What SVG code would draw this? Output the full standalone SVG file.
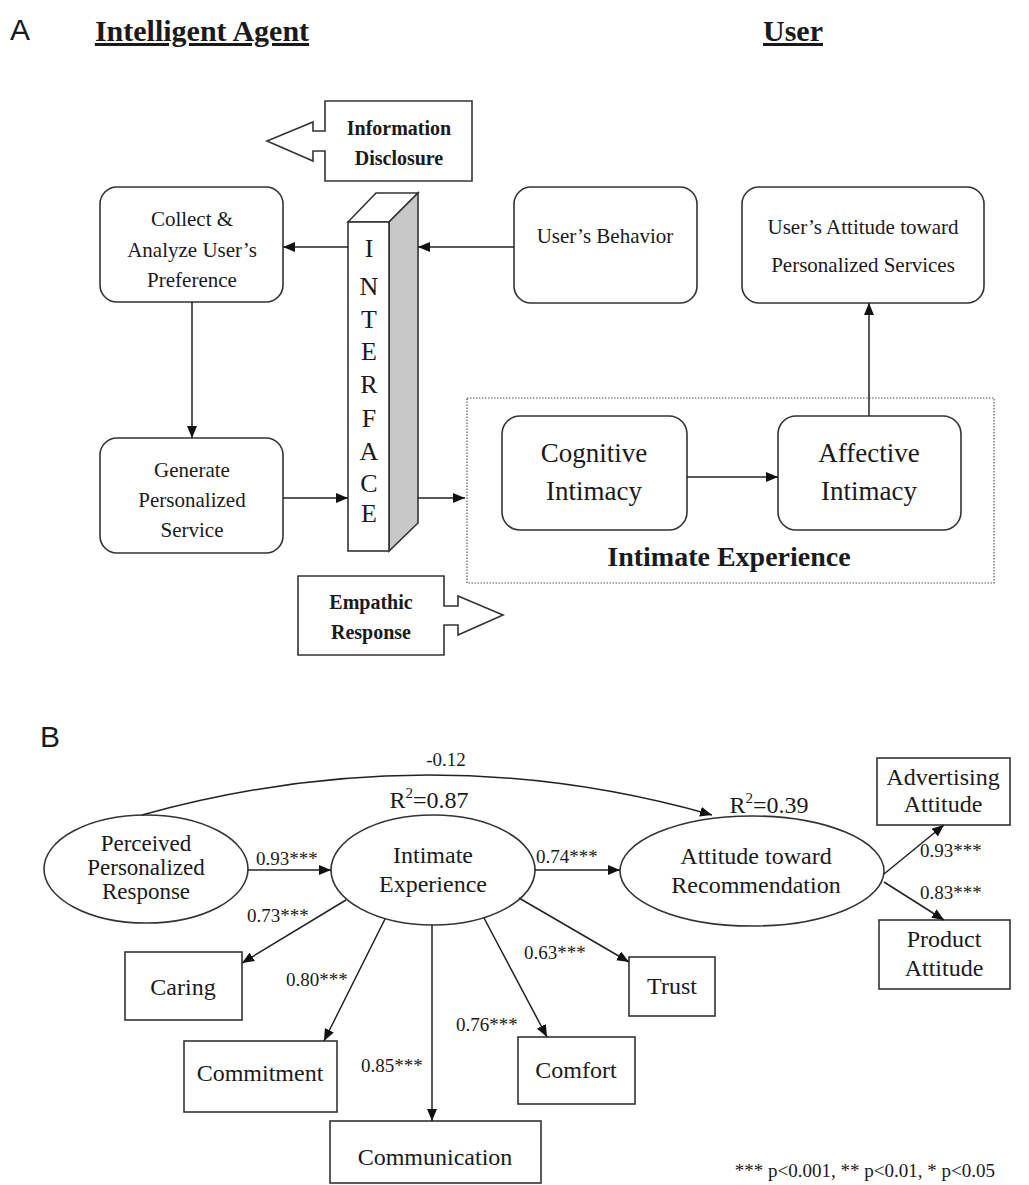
<svg xmlns="http://www.w3.org/2000/svg" width="1029" height="1185" viewBox="0 0 1029 1185">
<style>
.t{font-family:"Liberation Serif","Times New Roman",serif;fill:#1a1a1a;text-anchor:middle}
.b{font-weight:bold}
.s{font-family:"Liberation Sans",Arial,sans-serif;fill:#1a1a1a}
.box{fill:#fff;stroke:#333;stroke-width:1.6}
.ln{fill:none;stroke:#222;stroke-width:1.5}
.lab{font-family:"Liberation Serif","Times New Roman",serif;fill:#1a1a1a;font-size:19px}
</style>
<defs>
<marker id="ah" markerUnits="userSpaceOnUse" markerWidth="12" markerHeight="10" refX="12" refY="5" orient="auto">
<path d="M0,0 L12,5 L0,10 Z" fill="#111"/>
</marker>
</defs>
<rect width="1029" height="1185" fill="#fff"/>

<!-- Titles -->
<text class="s" x="10" y="40" font-size="30">A</text>
<text class="t b" x="202" y="41" font-size="30" text-decoration="underline">Intelligent Agent</text>
<text class="t b" x="793" y="41" font-size="30" text-decoration="underline">User</text>
<text class="s" x="40" y="747" font-size="30">B</text>

<!-- Part A nodes -->
<g id="info-disclosure">
<path class="box" d="M325,101 H472 V181 H325 V151 H313 V161 L267,141 L313,122 V131 H325 Z"/>
<text class="t b" x="399" y="135" font-size="20">Information</text>
<text class="t b" x="399" y="165" font-size="20">Disclosure</text>
</g>
<g id="collect">
<rect class="box" x="100" y="187" width="183" height="115" rx="17"/>
<text class="t" x="192" y="226" font-size="21">Collect &amp;</text>
<text class="t" x="192" y="257" font-size="21">Analyze User’s</text>
<text class="t" x="192" y="287" font-size="21">Preference</text>
</g>
<g id="generate">
<rect class="box" x="100" y="438" width="183" height="115" rx="17"/>
<text class="t" x="192" y="477" font-size="21">Generate</text>
<text class="t" x="192" y="507" font-size="21">Personalized</text>
<text class="t" x="192" y="537" font-size="21">Service</text>
</g>
<g id="interface">
<path d="M348,222 L376,193 L418,193 L389,222 Z" fill="#fff" stroke="#333" stroke-width="1.6"/>
<path d="M389,222 L418,193 L418,523 L389,551 Z" fill="#c8c8c8" stroke="#333" stroke-width="1.6"/>
<rect x="348" y="222" width="41" height="329" fill="#fff" stroke="#333" stroke-width="1.6"/>
<text class="t" x="369" font-size="26"><tspan x="369" y="257">I</tspan><tspan x="369" y="295">N</tspan><tspan x="369" y="328">T</tspan><tspan x="369" y="360">E</tspan><tspan x="369" y="393">R</tspan><tspan x="369" y="427">F</tspan><tspan x="369" y="460">A</tspan><tspan x="369" y="492">C</tspan><tspan x="369" y="522">E</tspan></text>
</g>
<g id="empathic">
<path class="box" d="M298,576 H444 V606 H458 V596 L503,615 L458,635 V625 H444 V655 H298 Z"/>
<text class="t b" x="371" y="609" font-size="20">Empathic</text>
<text class="t b" x="371" y="639" font-size="20">Response</text>
</g>
<g id="behavior">
<rect class="box" x="514" y="187" width="183" height="116" rx="17"/>
<text class="t" x="605" y="243" font-size="21">User’s Behavior</text>
</g>
<g id="attitude-services">
<rect class="box" x="742" y="187" width="242" height="116" rx="17"/>
<text class="t" x="863" y="234" font-size="21">User’s Attitude toward</text>
<text class="t" x="863" y="272" font-size="21">Personalized Services</text>
</g>
<g id="intimate-experience-a">
<rect x="467" y="398" width="527" height="185" fill="none" stroke="#555" stroke-width="1.2" stroke-dasharray="1.5,1.5"/>
<text class="t b" x="729" y="566" font-size="28">Intimate Experience</text>
</g>
<g id="cognitive">
<rect class="box" x="502" y="416" width="185" height="114" rx="18"/>
<text class="t" x="594" y="462" font-size="27">Cognitive</text>
<text class="t" x="594" y="500" font-size="27">Intimacy</text>
</g>
<g id="affective">
<rect class="box" x="778" y="416" width="183" height="114" rx="18"/>
<text class="t" x="869" y="462" font-size="27">Affective</text>
<text class="t" x="869" y="500" font-size="27">Intimacy</text>
</g>

<!-- Part B nodes -->
<g id="ppr">
<ellipse class="box" cx="146" cy="869" rx="102" ry="54"/>
<text class="t" x="146" y="851" font-size="23">Perceived</text>
<text class="t" x="146" y="875" font-size="23">Personalized</text>
<text class="t" x="146" y="899" font-size="23">Response</text>
</g>
<g id="ie">
<ellipse class="box" cx="433" cy="870" rx="102" ry="55"/>
<text class="t" x="433" y="863" font-size="24">Intimate</text>
<text class="t" x="433" y="892" font-size="24">Experience</text>
<text class="t" x="429" y="808" font-size="24">R<tspan font-size="15" dy="-10">2</tspan><tspan dy="10">=0.87</tspan></text>
</g>
<g id="atr">
<ellipse class="box" cx="752" cy="871" rx="132" ry="55"/>
<text class="t" x="756" y="864" font-size="24">Attitude toward</text>
<text class="t" x="756" y="893" font-size="24">Recommendation</text>
<text class="t" x="769" y="813" font-size="24">R<tspan font-size="15" dy="-10">2</tspan><tspan dy="10">=0.39</tspan></text>
</g>
<g id="advertising">
<rect class="box" x="877" y="758" width="133" height="67"/>
<text class="t" x="943" y="785" font-size="24">Advertising</text>
<text class="t" x="943" y="812" font-size="24">Attitude</text>
</g>
<g id="product">
<rect class="box" x="879" y="920" width="131" height="69"/>
<text class="t" x="944" y="947" font-size="24">Product</text>
<text class="t" x="944" y="976" font-size="24">Attitude</text>
</g>
<g id="caring">
<rect class="box" x="125" y="952" width="117" height="68"/>
<text class="t" x="183" y="995" font-size="24">Caring</text>
</g>
<g id="commitment">
<rect class="box" x="184" y="1041" width="153" height="71"/>
<text class="t" x="260" y="1081" font-size="24">Commitment</text>
</g>
<g id="communication">
<rect class="box" x="330" y="1121" width="211" height="62"/>
<text class="t" x="435" y="1165" font-size="24">Communication</text>
</g>
<g id="comfort">
<rect class="box" x="518" y="1037" width="117" height="67"/>
<text class="t" x="576" y="1078" font-size="24">Comfort</text>
</g>
<g id="trust">
<rect class="box" x="629" y="957" width="86" height="59"/>
<text class="t" x="672" y="994" font-size="24">Trust</text>
</g>

<!-- Connectors -->
<g id="connectors">
<line class="ln" x1="514" y1="247" x2="418" y2="247" marker-end="url(#ah)"/>
<line class="ln" x1="348" y1="247" x2="283" y2="247" marker-end="url(#ah)"/>
<line class="ln" x1="192" y1="302" x2="192" y2="438" marker-end="url(#ah)"/>
<line class="ln" x1="283" y1="498" x2="348" y2="498" marker-end="url(#ah)"/>
<line class="ln" x1="418" y1="498" x2="465" y2="498" marker-end="url(#ah)"/>
<line class="ln" x1="687" y1="477" x2="778" y2="477" marker-end="url(#ah)"/>
<line class="ln" x1="869" y1="416" x2="869" y2="303" marker-end="url(#ah)"/>

<path class="ln" d="M142,815 Q430,735 712,815" marker-end="url(#ah)"/>
<line class="ln" x1="248" y1="870" x2="331" y2="870" marker-end="url(#ah)"/>
<line class="ln" x1="535" y1="870" x2="620" y2="870" marker-end="url(#ah)"/>
<line class="ln" x1="346" y1="900" x2="242" y2="963" marker-end="url(#ah)"/>
<line class="ln" x1="385" y1="919" x2="324" y2="1041" marker-end="url(#ah)"/>
<line class="ln" x1="432" y1="925" x2="432" y2="1121" marker-end="url(#ah)"/>
<line class="ln" x1="484" y1="918" x2="547" y2="1037" marker-end="url(#ah)"/>
<line class="ln" x1="519" y1="898" x2="629" y2="962" marker-end="url(#ah)"/>
<line class="ln" x1="884" y1="874" x2="944" y2="825" marker-end="url(#ah)"/>
<line class="ln" x1="884" y1="882" x2="944" y2="920" marker-end="url(#ah)"/>

<text class="lab" x="446" y="766" text-anchor="middle">-0.12</text>
<text class="lab" x="256" y="865">0.93***</text>
<text class="lab" x="536" y="863">0.74***</text>
<text class="lab" x="247" y="922">0.73***</text>
<text class="lab" x="286" y="986">0.80***</text>
<text class="lab" x="361" y="1072">0.85***</text>
<text class="lab" x="456" y="1031">0.76***</text>
<text class="lab" x="524" y="959">0.63***</text>
<text class="lab" x="920" y="857">0.93***</text>
<text class="lab" x="920" y="899">0.83***</text>
</g>

<text class="lab" x="995" y="1177" text-anchor="end" font-size="20">*** p&lt;0.001, ** p&lt;0.01, * p&lt;0.05</text>
</svg>
